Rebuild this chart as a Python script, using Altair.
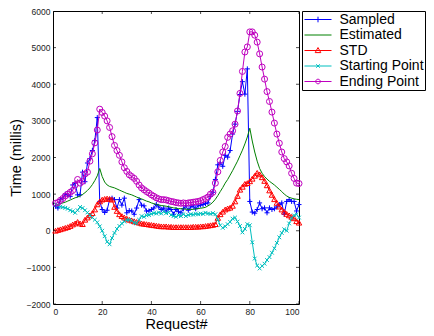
import altair as alt
import pandas as pd

req = list(range(1, 101))

sampled = [670, 620, 850, 890, 1000, 980, 940, 1250, 1300, 980,
           980, 1600, 1340, 1850, 1970, 2190, 2460, 3090, 800, 580,
           500, 560, 850, 890, 850, 620, 850, 700, 890, 490,
           550, 540, 450, 620, 850, 700, 680, 540, 540, 580,
           620, 720, 650, 580, 620, 540, 620, 580, 450, 580,
           520, 490, 600, 680, 560, 650, 680, 600, 680, 700,
           715, 740, 760, 940, 1050, 1400, 1800, 1850, 1760, 2060,
           2010, 2190, 2640, 2910, 3260, 3720, 4070, 3730, 4420, 800,
           510, 480, 580, 760, 600, 625, 490, 625, 580, 600,
           650, 715, 760, 450, 800, 850, 800, 800, 540, 715]

estimated = [700, 720, 740, 760, 780, 810, 840, 870, 900, 920,
             950, 990, 1040, 1100, 1170, 1260, 1370, 1500, 1700, 1480,
             1330, 1250, 1210, 1190, 1170, 1140, 1110, 1080, 1050, 1020,
             1000, 980, 950, 920, 890, 870, 840, 810, 790, 760,
             740, 720, 700, 690, 680, 670, 655, 640, 625, 615,
             605, 600, 595, 590, 585, 580, 585, 595, 605, 615,
             625, 640, 680, 720, 780, 860, 960, 1070, 1180, 1300,
             1400, 1520, 1640, 1770, 1900, 2050, 2200, 2370, 2560, 2800,
             2450, 2150, 1900, 1700, 1570, 1480, 1410, 1350, 1300, 1250,
             1190, 1130, 1070, 1000, 950, 910, 890, 870, 860, 850]

std = [0, 20, 40, 60, 80, 100, 130, 170, 200, 240,
       200, 180, 300, 360, 420, 480, 580, 720, 800, 850,
       870, 880, 870, 850, 650, 540, 450, 400, 360, 330,
       300, 280, 260, 240, 220, 200, 190, 180, 170, 160,
       150, 140, 130, 120, 120, 120, 110, 110, 100, 100,
       100, 100, 100, 100, 100, 100, 110, 110, 110, 120,
       120, 130, 140, 150, 160, 180, 350, 450, 520, 580,
       610, 630, 680, 800, 950, 1120, 1200, 1280, 1300, 1350,
       1420, 1500, 1580, 1540, 1460, 1360, 1240, 1100, 980, 860,
       760, 660, 580, 520, 460, 420, 380, 340, 260, 220]

starting = [715, 690, 660, 640, 625, 600, 560, 530, 490, 560,
            650, 620, 560, 500, 420, 360, 300, 230, 120, 0,
            -150, -300, -370, -200, -60, 50, 130, 200, 250, 300,
            300, 270, 220, 200, 300, 400, 380, 420, 430, 460,
            480, 470, 500, 470, 520, 480, 500, 430, 400, 380,
            420, 400, 450, 400, 430, 450, 440, 460, 450, 470,
            460, 490, 470, 460, 480, 450, 300, 150, 80, 120,
            180, 240, 330, 360, 250, 130, -45, 50, 180, 150,
            -315, -760, -950, -1030, -960, -900, -800, -720, -600, -480,
            -330, -180, -60, 40, 0, 200, 350, 420, 450, 360]

ending = [750, 770, 830, 880, 950, 1000, 1050, 1100, 1250, 1400,
          1300, 1350, 1550, 1600, 1900, 2100, 2400, 2750, 3320, 3230,
          3130, 3000, 2820, 2570, 2330, 2190, 2060, 1880, 1720, 1620,
          1530, 1480, 1430, 1350, 1250, 1170, 1120, 1070, 1030, 980,
          940, 900, 870, 850, 850, 840, 820, 800, 790, 770,
          760, 750, 760, 750, 760, 770, 780, 790, 800, 820,
          850, 880, 920, 1000, 1050, 1300, 1610, 1920, 2150, 2300,
          2550, 2640, 2730, 2910, 3270, 3750, 4350, 4880, 5020, 5430,
          5430, 5340, 5150, 4830, 4470, 4140, 3800, 3530, 3240, 2940,
          2640, 2390, 2150, 1970, 1880, 1770, 1570, 1430, 1300, 1290]

names = ["Sampled", "Estimated", "STD", "Starting Point", "Ending Point"]
colors = ["#0000ff", "#008000", "#ff0000", "#00bfbf", "#bf00bf"]
x_ticks = [0, 20, 40, 60, 80, 100]
y_ticks = [-2000, -1000, 0, 1000, 2000, 3000, 4000, 5000, 6000]
x_min, x_max = 0, 100
y_min, y_max = -2000, 6000

series_values = [sampled, estimated, std, starting, ending]
rows = []
for name, vals in zip(names, series_values):
    for xi, v in zip(req, vals):
        rows.append({"req": xi, "t": v, "series": name})
df = pd.DataFrame(rows)

FONT = "Liberation Sans"

plus_path = "M-1,0H1M0,-1V1"
x_path = "M-1,-1L1,1M-1,1L1,-1"
markers = {
    "Sampled": (plus_path, 25),
    "STD": ("triangle-up", 30),
    "Starting Point": (x_path, 14),
    "Ending Point": ("circle", 36),
}
L = "M-1.93,0H1.93"
legend_paths = [
    L + "M0,-0.4V0.4",
    L,
    L + "M0,-0.42L0.4,0.3L-0.4,0.3Z",
    L + "M-0.25,-0.25L0.25,0.25M-0.25,0.25L0.25,-0.25",
    L + "M-0.33,0A0.33,0.33 0 1,0 0.33,0A0.33,0.33 0 1,0 -0.33,0",
]

xs = alt.Scale(domain=[x_min, x_max], nice=False, zero=False)
ys = alt.Scale(domain=[y_min, y_max], nice=False, zero=False)

xaxis = alt.Axis(values=x_ticks, format="d", title="Request#", ticks=False, domain=False, grid=False,
                 labelFontSize=8.5, labelPadding=3, labelFont=FONT, labelColor="#222",
                 titleFont=FONT, titleFontSize=14.5, titleFontWeight="normal",
                 titleColor="black", titlePadding=2)
yaxis = alt.Axis(values=y_ticks, format="d", title="Time (millis)", ticks=False, domain=False, grid=False,
                 labelFontSize=8.5, labelPadding=3, labelFont=FONT, labelColor="#222",
                 titleFont=FONT, titleFontSize=14.5, titleFontWeight="normal",
                 titleColor="black", titlePadding=3)

X = alt.X("req:Q", scale=xs, axis=xaxis)
Y = alt.Y("t:Q", scale=ys, axis=yaxis)

layers = []
for name, col in zip(names, colors):
    b = alt.Chart(df).transform_filter(alt.datum.series == name)
    layers.append(b.mark_line(color=col, strokeWidth=1).encode(x=X, y=Y))
    if name in markers:
        shp, sz = markers[name]
        layers.append(b.mark_point(shape=shp, size=sz, filled=False, color=col,
                                   strokeWidth=1, opacity=1).encode(x=X, y=Y))

# inward ticks on all four sides (half of a clipped tick shows inside the box)
xt = pd.DataFrame({"req": x_ticks})
yt = pd.DataFrame({"t": y_ticks})
for yd in (y_min, y_max):
    layers.append(alt.Chart(xt).mark_tick(color="black", thickness=1, size=6, clip=True,
                                          orient="vertical").encode(
        x=X, y=alt.Y(datum=yd, scale=ys, axis=yaxis)))
for xd in (x_min, x_max):
    layers.append(alt.Chart(yt).mark_tick(color="black", thickness=1, size=6, clip=True,
                                          orient="horizontal").encode(
        y=Y, x=alt.X(datum=xd, scale=xs, axis=xaxis)))

leg = alt.Legend(title=None, orient="right", offset=3, padding=1, strokeColor="black",
                 fillColor="white", labelFont=FONT, labelFontSize=14, labelColor="black",
                 symbolSize=196, symbolStrokeWidth=1, symbolOffset=7.5, labelOffset=14,
                 rowPadding=0.5, cornerRadius=0, labelLimit=200)
legend_layer = alt.Chart(df).transform_filter("false").mark_point(
    filled=False, strokeWidth=1, opacity=1).encode(
    color=alt.Color("series:N", scale=alt.Scale(domain=names, range=colors), legend=leg),
    shape=alt.Shape("series:N", scale=alt.Scale(domain=names, range=legend_paths), legend=leg),
)
layers.append(legend_layer)

chart = alt.layer(*layers).properties(
    width=418, height=323,
    autosize=alt.AutoSizeParams(type="fit", contains="padding"),
    padding={"left": 0, "top": -1, "right": 0, "bottom": 0},
    background="white",
).configure_view(stroke="black", strokeWidth=1)

chart.save("out.html", embed_options={"renderer": "svg", "actions": False})
